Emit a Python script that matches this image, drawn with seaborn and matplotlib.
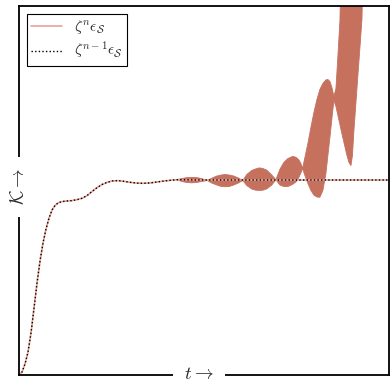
import seaborn as sns
import matplotlib.pyplot as plt
import numpy as np

# previous-step response (smooth curve)
t_ref = [0.0, 0.081, 0.163, 0.244, 0.325, 0.407, 0.488, 0.569, 0.650, 0.732, 0.813, 0.894,
         0.976, 1.057, 1.165, 1.301, 1.436, 1.572, 1.707, 1.843, 1.978, 2.114, 2.249, 2.385,
         2.520, 2.683, 2.846, 3.008, 3.198, 3.360, 3.550, 3.740, 3.930, 4.119, 4.309, 4.634,
         5.087, 10.0]
k_ref = [0.0, 0.015, 0.057, 0.118, 0.216, 0.345, 0.474, 0.587, 0.680, 0.752, 0.808, 0.850,
         0.873, 0.886, 0.893, 0.896, 0.898, 0.903, 0.910, 0.924, 0.945, 0.965, 0.981, 0.992,
         0.999, 1.001, 0.997, 0.992, 0.988, 0.987, 0.989, 0.994, 0.999, 1.003, 1.006, 1.005,
         1.004, 1.004]

# envelope of the fast-oscillating current response
t_band = [4.270, 4.390, 4.526, 4.661, 4.797, 4.932, 5.087,
          5.203, 5.339, 5.447, 5.566, 5.691, 5.799, 5.935, 6.043,
          6.152, 6.287, 6.396, 6.491, 6.585, 6.694, 6.829, 6.938,
          7.046, 7.154, 7.263, 7.390, 7.480, 7.561, 7.615, 7.661,
          7.724, 7.805, 7.886, 7.967, 8.049, 8.130, 8.211, 8.293, 8.347, 8.401, 8.455, 8.509,
          8.564, 8.618, 8.672, 8.713, 8.780, 8.862, 8.916, 8.970, 9.011, 9.051, 9.106, 9.160,
          9.214, 9.268, 9.309]
k_upper = [1.008, 1.014, 1.019, 1.020, 1.019, 1.014, 1.004,
           1.016, 1.027, 1.032, 1.035, 1.032, 1.027, 1.016, 1.004,
           1.035, 1.056, 1.064, 1.069, 1.066, 1.057, 1.032, 1.008,
           1.061, 1.097, 1.117, 1.128, 1.124, 1.110, 1.092, 1.066,
           1.123, 1.195, 1.277, 1.354, 1.421, 1.473, 1.504, 1.522, 1.524, 1.514, 1.483, 1.437,
           1.478, 1.648, 1.828, 2.2, 2.2, 2.2, 2.2, 2.2, 2.2, 2.2, 2.2, 2.2,
           2.2, 2.2, 2.2]
k_lower = [1.008, 0.999, 0.994, 0.992, 0.994, 0.999, 1.004,
           0.991, 0.981, 0.974, 0.972, 0.974, 0.981, 0.992, 1.004,
           0.978, 0.960, 0.954, 0.953, 0.954, 0.961, 0.981, 1.008,
           0.981, 0.973, 0.973, 0.984, 0.996, 1.020, 1.043, 1.066,
           1.030, 0.989, 0.953, 0.929, 0.919, 0.918, 0.953, 1.040, 1.133, 1.226, 1.323, 1.416,
           1.385, 1.339, 1.292, 1.256, 1.200, 1.133, 1.097, 1.081, 1.133, 1.262, 1.406, 1.550,
           1.689, 1.833, 2.2]

band_color = "#c6705e"
line_color = "#e6a397"

sns.set_style("white")
plt.rcParams["mathtext.fontset"] = "cm"

fig = plt.figure(figsize=(3.9, 3.81), dpi=100)
ax = fig.add_axes([19 / 390, 6 / 381, 369.5 / 390, 369 / 381])

sns.lineplot(x=t_ref, y=k_ref, ax=ax, color=line_color, lw=1.2,
             label=r"$\zeta^n\epsilon_\mathcal{S}$")
ax.fill_between(t_band, k_lower, k_upper, color=band_color, lw=0.6, ec=band_color)
sns.lineplot(x=t_ref, y=k_ref, ax=ax, color="black", lw=1.0, linestyle=(0, (1, 1.6)),
             label=r"$\zeta^{n-1}\epsilon_\mathcal{S}$")

ax.set_xlim(0, 10)
ax.set_ylim(0, 1.9)
ax.set_xticks([])
ax.set_yticks([])
ax.set_xlabel("")
ax.set_ylabel("")
for s in ax.spines.values():
    s.set_color("black")
    s.set_linewidth(1.3)

box = dict(boxstyle="square,pad=0.6", fc="white", ec="none")
ax.text(0.488, 0.003, r"$t\rightarrow$", transform=ax.transAxes, ha="center", va="center",
        fontsize=13.5, bbox=box, clip_on=False)
ax.text(0.0, 0.51, r"$\mathcal{K}\rightarrow$", transform=ax.transAxes, ha="center",
        va="center", rotation=90, fontsize=13.5, bbox=box, clip_on=False)

leg = ax.legend(loc="upper left", fontsize=11, fancybox=False, edgecolor="black",
                framealpha=1, borderaxespad=0.5, handlelength=2.0,
                labelspacing=0.25, borderpad=0.3)
leg.get_frame().set_linewidth(0.8)

fig.savefig("out.png", dpi=100)
